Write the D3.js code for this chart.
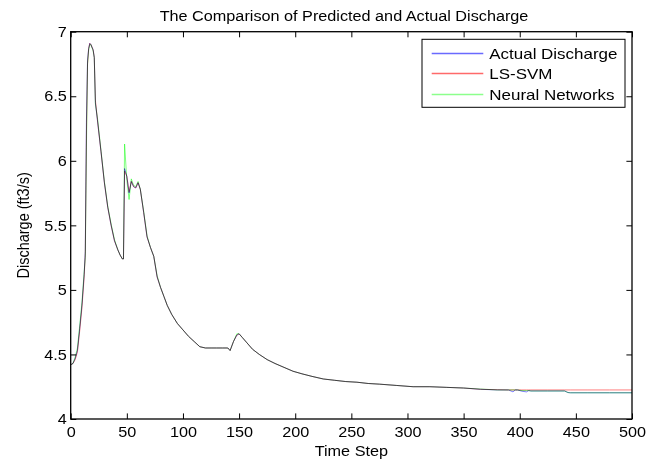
<!DOCTYPE html>
<html>
<head>
<meta charset="utf-8">
<script src="https://cdn.jsdelivr.net/npm/d3@7"></script>
<style>
  html, body { margin: 0; padding: 0; background: #fff; }
  svg { display: block; }
  text { font-family: "Liberation Sans", Arial, sans-serif; fill: #000; }
</style>
</head>
<body>
<svg id="chart" width="659" height="459"></svg>
<script>
// ---- data ----
const steps = [0,2,4,6,8,10,12,13,14,15,16,17,18,20,21,22,24,27,30,33,36,39,42,44,46,47,48,50,52,54,56,58,60,62,65,68,71,74,77,80,83,86,90,95,100,105,110,115,120,125,130,135,140,142,145,148,150,153,157,162,168,175,182,190,198,206,215,225,235,245,255,265,275,290,305,320,335,350,365,380,390,394,396,398,402,406,408,410,425,440,443,445,460,480,500];

const actual = [4.42,4.43,4.47,4.53,4.70,4.88,5.12,5.30,6.30,6.78,
  6.87,6.91,6.90,6.86,6.80,6.45,6.30,6.07,5.83,5.64,
  5.50,5.38,5.31,5.27,5.24,5.24,5.94,5.88,5.75,5.84,
  5.80,5.79,5.83,5.78,5.60,5.41,5.33,5.26,5.10,5.02,
  4.95,4.88,4.81,4.74,4.69,4.64,4.60,4.56,4.55,4.55,
  4.55,4.55,4.55,4.53,4.60,4.65,4.66,4.63,4.59,4.54,
  4.50,4.46,4.43,4.40,4.37,4.35,4.33,4.31,4.30,4.29,
  4.285,4.275,4.27,4.26,4.25,4.25,4.245,4.24,4.23,4.225,
  4.225,4.21,4.225,4.225,4.215,4.21,4.22,4.217,4.217,4.217,
  4.205,4.203,4.203,4.203,4.203];

const lssvm = [4.42,4.43,4.46,4.52,4.68,4.86,5.10,5.28,6.20,6.75,
  6.87,6.91,6.90,6.86,6.80,6.47,6.30,6.07,5.83,5.64,
  5.50,5.38,5.31,5.27,5.24,5.24,5.92,5.88,5.76,5.84,
  5.80,5.79,5.83,5.78,5.60,5.41,5.33,5.26,5.10,5.02,
  4.95,4.88,4.81,4.74,4.69,4.64,4.60,4.56,4.55,4.55,
  4.55,4.55,4.55,4.53,4.60,4.65,4.66,4.63,4.59,4.54,
  4.50,4.46,4.43,4.40,4.37,4.35,4.33,4.31,4.30,4.29,
  4.285,4.275,4.27,4.26,4.25,4.25,4.245,4.24,4.23,4.227,
  4.225,4.225,4.225,4.225,4.225,4.225,4.225,4.225,4.225,4.225,
  4.225,4.225,4.225,4.225,4.225];

const neural = [4.42,4.43,4.48,4.55,4.72,4.90,5.14,5.25,6.10,6.75,
  6.86,6.90,6.90,6.85,6.80,6.44,6.32,6.08,5.84,5.65,
  5.51,5.39,5.31,5.27,5.24,5.24,6.13,5.85,5.70,5.86,
  5.81,5.80,5.84,5.78,5.61,5.42,5.33,5.26,5.11,5.02,
  4.95,4.88,4.81,4.74,4.69,4.64,4.60,4.56,4.55,4.55,
  4.55,4.55,4.55,4.53,4.60,4.66,4.66,4.63,4.59,4.54,
  4.50,4.46,4.43,4.40,4.37,4.35,4.33,4.31,4.30,4.29,
  4.285,4.275,4.27,4.26,4.25,4.25,4.245,4.24,4.232,4.225,
  4.225,4.225,4.225,4.225,4.22,4.22,4.22,4.217,4.217,4.217,
  4.205,4.203,4.203,4.203,4.203];

const seriesNames = ["Actual Discharge", "LS-SVM", "Neural Networks"];
const seriesColors = ["#0000ff", "#ff0000", "#00ff00"];
const legendColors = ["#6a6aff", "#ff6a6a", "#8cff8c"];
const xTicks = [0,50,100,150,200,250,300,350,400,450,500];
const yTicks = [4,4.5,5,5.5,6,6.5,7];
const titleText = "The Comparison of Predicted and Actual Discharge";
const xLabel = "Time Step";
const yLabel = "Discharge (ft3/s)";

// ---- layout ----
const L = 70.7, R = 632, T = 31.7, B = 419;
const SX = 1.12;        // horizontal stretch of the reference text
const SXL = 1.17;       // legend text stretch
const tickLen = 5.6;

const svg = d3.select("#chart");
svg.append("rect").attr("width", 659).attr("height", 459).attr("fill", "#fff");

const x = d3.scaleLinear().domain([0, 500]).range([L, R]);
const y = d3.scaleLinear().domain([4, 7]).range([B, T]);

svg.append("defs").append("clipPath").attr("id", "clip")
  .append("rect").attr("x", L).attr("y", T).attr("width", R - L).attr("height", B - T);

// lines
const allSeries = [actual, lssvm, neural];
const line = d3.line().x((d, i) => x(steps[i])).y(d => y(d));
const gLines = svg.append("g").attr("clip-path", "url(#clip)");
allSeries.forEach((vals, k) => {
  gLines.append("path")
    .datum(vals)
    .attr("d", line)
    .attr("fill", "none")
    .attr("stroke", seriesColors[k])
    .attr("stroke-width", 1)
    .attr("stroke-opacity", 0.5)
    .style("mix-blend-mode", "multiply");
});

// axes (box style, ticks inward on all sides)
const axB = d3.axisBottom(x).tickValues(xTicks).tickSizeInner(-tickLen).tickSizeOuter(0).tickPadding(8).tickFormat(d3.format("d"));
const axT = d3.axisTop(x).tickValues(xTicks).tickSizeInner(-tickLen).tickSizeOuter(0).tickFormat("");
const axL = d3.axisLeft(y).tickValues(yTicks).tickSizeInner(-tickLen).tickSizeOuter(0).tickPadding(3.5).tickFormat(d3.format("~g"));
const axR = d3.axisRight(y).tickValues(yTicks).tickSizeInner(-tickLen).tickSizeOuter(0).tickFormat("");

function styleAxis(g) {
  g.select(".domain").remove();
  g.selectAll(".tick line").attr("stroke", "#000").attr("stroke-width", 1);
  g.selectAll(".tick text").attr("font-size", 14.5).attr("font-family", "Liberation Sans, Arial, sans-serif").attr("fill", "#000")
    .attr("transform", `scale(${SX},1)`);
}
svg.append("g").attr("transform", `translate(0,${B})`).call(axB).call(styleAxis);
svg.append("g").attr("transform", `translate(0,${T})`).call(axT).call(styleAxis);
svg.append("g").attr("transform", `translate(${L},0)`).call(axL).call(styleAxis);
svg.append("g").attr("transform", `translate(${R},0)`).call(axR).call(styleAxis);

// axis box
svg.append("rect").attr("x", L).attr("y", T).attr("width", R - L).attr("height", B - T)
  .attr("fill", "none").attr("stroke", "#000").attr("stroke-width", 1.3);

// title and labels
svg.append("text").attr("transform", `translate(344,20.5) scale(${SX},1)`)
  .attr("text-anchor", "middle").attr("font-size", 14.5).text(titleText);
svg.append("text").attr("transform", `translate(${(L + R) / 2},455.5) scale(${SX},1)`)
  .attr("text-anchor", "middle").attr("font-size", 14.5).text(xLabel);
svg.append("text").attr("transform", `translate(29,${(T + B) / 2}) rotate(-90) scale(1,${SX})`)
  .attr("text-anchor", "middle").attr("font-size", 14.5).text(yLabel);

// legend
const lg = svg.append("g");
lg.append("rect").attr("x", 422).attr("y", 39.3).attr("width", 203).attr("height", 68)
  .attr("fill", "#fff").attr("stroke", "#000").attr("stroke-width", 1);
const rowY = [53.5, 73.5, 94.5];
seriesNames.forEach((name, k) => {
  lg.append("rect").attr("x", 431.7).attr("y", rowY[k] - 0.75).attr("width", 51.6).attr("height", 1.5)
    .attr("fill", legendColors[k]);
  lg.append("text").attr("transform", `translate(489.3,${rowY[k] + 5.2}) scale(${SXL},1)`)
    .attr("font-size", 14.5).text(name);
});
</script>
</body>
</html>
